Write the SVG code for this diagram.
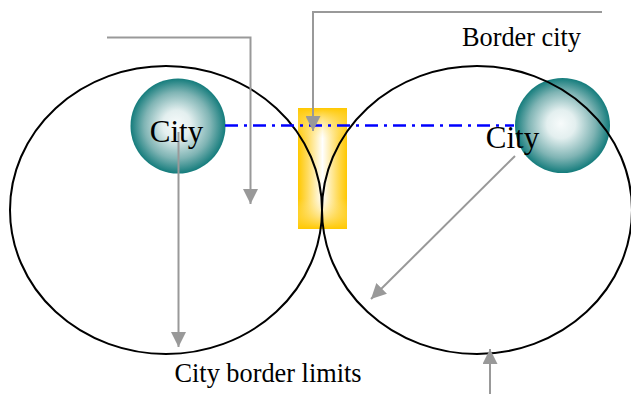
<svg xmlns="http://www.w3.org/2000/svg" width="631" height="394" viewBox="0 0 631 394">
<style>
.region{fill:none;stroke:#000;stroke-width:2}
.lbl{font-family:"Liberation Serif","Times New Roman",serif;font-size:26.3px;fill:#000;text-anchor:middle}
.city{font-family:"Liberation Serif","Times New Roman",serif;font-size:31px;fill:#000;text-anchor:middle}
.conn{fill:none;stroke:#999;stroke-width:2}
.axis{fill:none;stroke:#0000ff;stroke-width:2.5;stroke-dasharray:13 6 3 6}
</style>
<defs>
<radialGradient id="gCity" cx="0.5" cy="0.5" r="0.5" fx="0.48" fy="0.48">
<stop offset="0" stop-color="#f7fbfb"/>
<stop offset="0.3" stop-color="#e3efef"/>
<stop offset="0.7" stop-color="#7fb4b4"/>
<stop offset="1" stop-color="#147c7c"/>
</radialGradient>
<linearGradient id="gBorderH" x1="0" y1="0" x2="1" y2="0">
<stop offset="0" stop-color="#ffc800"/>
<stop offset="0.2" stop-color="#ffdc60"/>
<stop offset="0.5" stop-color="#ffffff"/>
<stop offset="0.8" stop-color="#ffdc60"/>
<stop offset="1" stop-color="#ffc800"/>
</linearGradient>
<linearGradient id="gBorderV" x1="0" y1="0" x2="0" y2="1">
<stop offset="0" stop-color="#ffc800" stop-opacity="1"/>
<stop offset="0.1" stop-color="#ffd640" stop-opacity="0.6"/>
<stop offset="0.25" stop-color="#ffe890" stop-opacity="0"/>
<stop offset="0.75" stop-color="#ffe890" stop-opacity="0"/>
<stop offset="0.9" stop-color="#ffd640" stop-opacity="0.6"/>
<stop offset="1" stop-color="#ffc800" stop-opacity="1"/>
</linearGradient>
<marker id="arr" markerUnits="userSpaceOnUse" markerWidth="15" markerHeight="15" viewBox="0 0 15 15" refX="15" refY="7.5" orient="auto">
<path d="M0,0 L15,7.5 L0,15 z" fill="#999"/>
</marker>
</defs>
<g id="border-city">
<rect x="298" y="108" width="49" height="121" fill="url(#gBorderH)"/>
<rect x="298" y="108" width="49" height="121" fill="url(#gBorderV)"/>
</g>
<g id="city-left">
<circle cx="178" cy="126" r="47.5" fill="url(#gCity)"/>
</g>
<g id="city-right">
<circle cx="562.5" cy="125.5" r="47.5" fill="url(#gCity)"/>
</g>
<g id="region-left">
<ellipse class="region" cx="166" cy="210" rx="156" ry="144"/>
</g>
<g id="region-right">
<ellipse class="region" cx="477" cy="210" rx="155" ry="144"/>
</g>
<g id="connectors">
<line class="axis" x1="225" y1="125.5" x2="514" y2="125.5"/>
<path class="conn" d="M107,37.5 H250.5 V204" marker-end="url(#arr)"/>
<path class="conn" d="M602,12 H313 V131" marker-end="url(#arr)"/>
<path class="conn" d="M178.5,132 V347" marker-end="url(#arr)"/>
<path class="conn" d="M515,156 L371,299" marker-end="url(#arr)"/>
<path class="conn" d="M490,394 V349" marker-end="url(#arr)"/>
</g>
<g id="labels">
<text class="city" x="176.5" y="141.5">City</text>
<text class="city" x="512.5" y="147.5">City</text>
<text class="lbl" x="521.5" y="46">Border city</text>
<text class="lbl" x="268" y="381.5">City border limits</text>
</g>
</svg>
